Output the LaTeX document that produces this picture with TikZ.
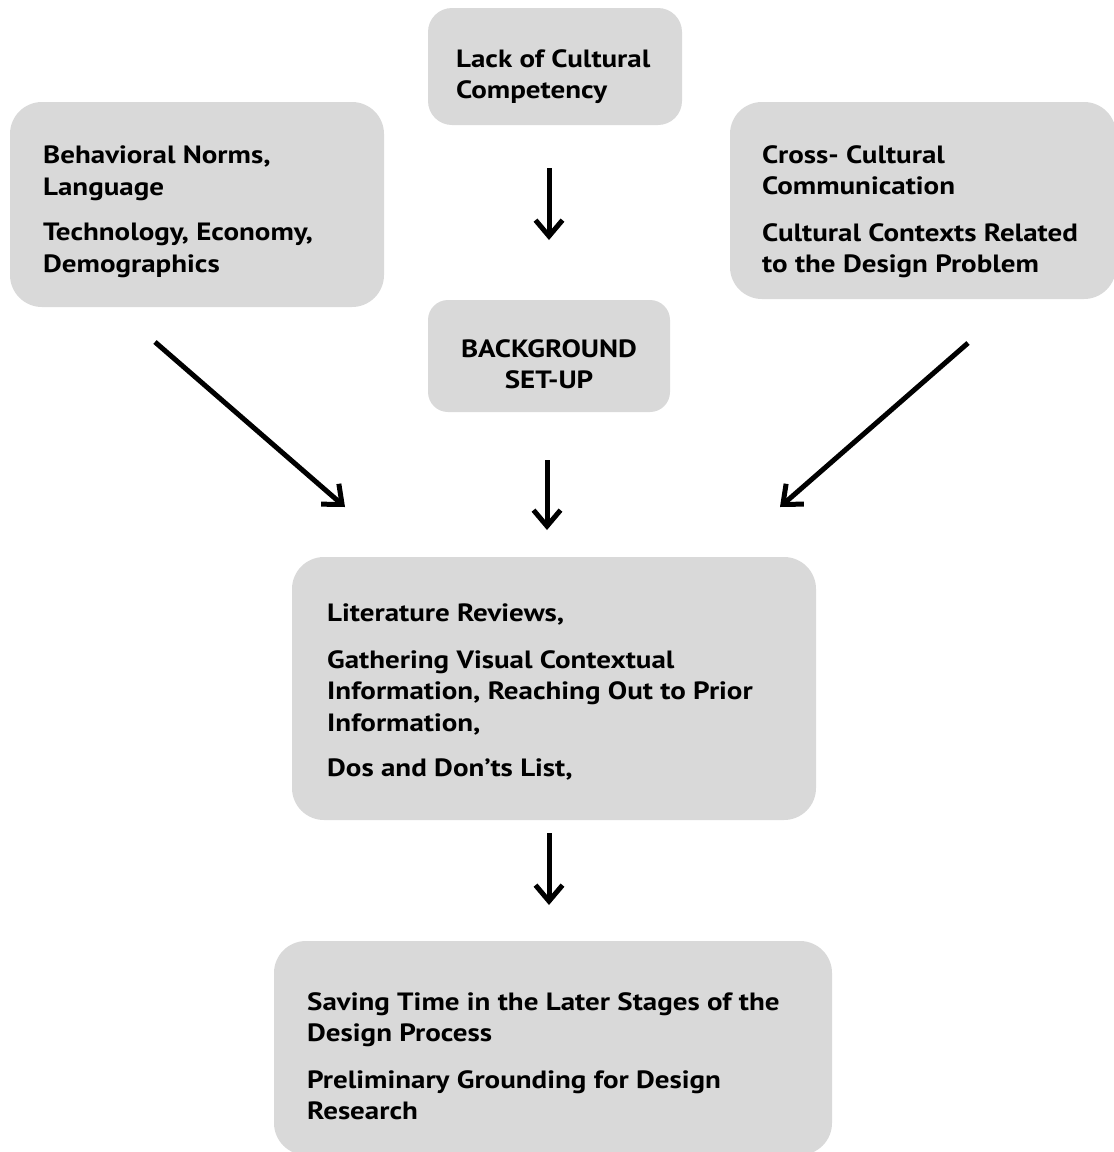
\documentclass[tikz,border=0pt]{standalone}
\usepackage{fontspec}
\setmainfont[FakeStretch=1.16]{PT Sans}
\usetikzlibrary{arrows.meta}
\definecolor{boxgray}{HTML}{D9D9D9}
\begin{document}
\begin{tikzpicture}[x=1pt,y=-1pt,
  panel/.style={fill=boxgray, draw=none, inner sep=0pt, rounded corners=#1},
  panel/.default=32pt,
  boxtext/.style={font=\fontsize{25}{31.5}\selectfont\bfseries, align=left,
    inner sep=0pt, anchor=north west},
  flow/.style={line width=5pt, -{Straight Barb[length=16pt,width=27pt]}}
]
\useasboundingbox (0,0) rectangle (1114,1152);

% boxes
\node[panel=24pt, minimum width=254pt, minimum height=117pt] (cause) at (555,66.5) {};
\node[panel, minimum width=374pt, minimum height=205pt] (norms) at (197,204.5) {};
\node[panel, minimum width=386pt, minimum height=197pt] (cross) at (923,200.5) {};
\node[panel=20pt, minimum width=242pt, minimum height=112pt] (setup) at (549,356) {};
\node[panel, minimum width=524pt, minimum height=263pt] (methods) at (554,688.5) {};
\node[panel, minimum width=558pt, minimum height=214pt] (benefits) at (553,1048) {};

% texts
\node[boxtext] (causeT) at (456,49) {Lack of Cultural\\Competency};
\node[boxtext] (normsT) at (43,146) {Behavioral Norms,\\Language\\[14pt]Technology, Economy,\\Demographics};
\node[boxtext] (crossT) at (762,145) {Cross- Cultural\\Communication\\[15pt]Cultural Contexts Related\\to the Design Problem};
\node[boxtext, align=center, anchor=north] (setupT) at (549,339) {BACKGROUND\\SET-UP};
\node[boxtext] (methodsT) at (327,604) {Literature Reviews,\\[15pt]Gathering Visual Contextual\\Information, Reaching Out to Prior\\Information,\\[14pt]Dos and Don’ts List,};
\node[boxtext] (benefitsT) at (307,992) {Saving Time in the Later Stages of the\\Design Process\\[15pt]Preliminary Grounding for Design\\Research};

% connector ends
\coordinate (a1s) at (549,168); \coordinate (a1e) at (549,240);
\coordinate (a2s) at (547,460); \coordinate (a2e) at (547,530);
\coordinate (a3s) at (549,833); \coordinate (a3e) at (549,905);
\coordinate (aLs) at (155,342); \coordinate (aLe) at (345,507);
\coordinate (aRs) at (968,343); \coordinate (aRe) at (780,507);

\draw[flow] (a1s) -- (a1e);
\draw[flow] (a2s) -- (a2e);
\draw[flow] (a3s) -- (a3e);
\draw[flow] (aLs) -- (aLe);
\draw[flow] (aRs) -- (aRe);
\end{tikzpicture}
\end{document}
